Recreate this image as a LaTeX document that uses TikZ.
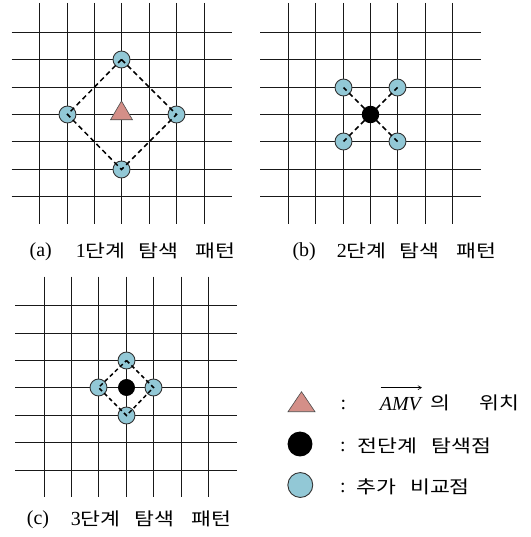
\documentclass[tikz,border=0pt]{standalone}
\usepackage{fontspec}
\setmainfont{Liberation Serif}
\newfontfamily\kr{Noto Sans CJK KR}[FakeStretch=1.22]
\newfontfamily\latn{Liberation Serif}
\usetikzlibrary{shapes.geometric,arrows.meta}
\definecolor{dotblue}{RGB}{146,200,214}
\definecolor{trired}{RGB}{212,143,136}
\definecolor{gridcol}{RGB}{25,25,25}
\tikzset{
  gridline/.style={draw=gridcol, line width=1.6bp},
  bluedot/.style={circle, draw=black!80, fill=dotblue, line width=0.9pt, minimum size=17pt, inner sep=0pt},
  blackdot/.style={circle, fill=black, minimum size=17.5pt, inner sep=0pt},
  dashline/.style={draw=black, line width=1.5pt, dash pattern=on 5pt off 3.5pt},
  lat/.style={font=\fontsize{20}{22}\selectfont, inner sep=0pt},
  han/.style={font=\kr\fontsize{17.8}{20}\selectfont, inner sep=0pt},
}
\newcommand{\dg}[1]{{\latn\fontsize{20}{22}\selectfont #1}}
\begin{document}
\begin{tikzpicture}[x=1bp,y=-1bp]
\useasboundingbox (0,0) rectangle (531,537);
% ---------- panel (a)
\foreach \v in {39.5,67.5,94.5,121.5,149.5,176.5,204.5}
  \draw[gridline] (\v,3) -- (\v,224);
\foreach \h in {32.5,59.5,87.5,114.5,141.5,169.5,196.5}
  \draw[gridline] (11.7,\h) -- (231.7,\h);
\node[bluedot] (aT) at (121.5,59.5) {};
\node[bluedot] (aL) at (67.5,114.5) {};
\node[bluedot] (aR) at (176.5,114.5) {};
\node[bluedot] (aB) at (121.5,169.5) {};
\draw[dashline] (aT.center) -- (aR.center) -- (aB.center) -- (aL.center) -- cycle;
\draw[fill=trired, draw=black!70, line width=0.6pt] (110.5,119.8) -- (121.5,101) -- (132.5,119.8) -- cycle;
% ---------- panel (b)
\foreach \v in {288.5,315.5,343.5,370.5,397.5,425.5,452.5}
  \draw[gridline] (\v,3) -- (\v,224);
\foreach \h in {32.5,59.5,87.5,114.5,141.5,169.5,196.5}
  \draw[gridline] (260,\h) -- (480.7,\h);
\node[bluedot] (bTL) at (343.5,87.5) {};
\node[bluedot] (bTR) at (397.5,87.5) {};
\node[bluedot] (bBL) at (343.5,141.5) {};
\node[bluedot] (bBR) at (397.5,141.5) {};
\node[blackdot] (bC) at (370.5,114.5) {};
\draw[dashline] (bC.center) -- (bTL.center);
\draw[dashline] (bC.center) -- (bTR.center);
\draw[dashline] (bC.center) -- (bBL.center);
\draw[dashline] (bC.center) -- (bBR.center);
% ---------- panel (c)
\foreach \v in {44.5,71.5,98.5,126.5,153.5,181.5,208.5}
  \draw[gridline] (\v,276.7) -- (\v,497.3);
\foreach \h in {305.5,333.5,360.5,387.5,415.5,442.5,470.5}
  \draw[gridline] (15,\h) -- (236.7,\h);
\node[blackdot, minimum size=17pt] (cC) at (126.5,387.5) {};
\node[bluedot] (cT) at (126.5,360.5) {};
\node[bluedot] (cL) at (98.5,387.5) {};
\node[bluedot] (cR) at (153.5,387.5) {};
\node[bluedot] (cB) at (126.5,415.5) {};
\draw[dashline, dash pattern=on 4pt off 3pt] (cT.center) -- (cR.center) -- (cB.center) -- (cL.center) -- cycle;
% ---------- captions
\node[lat] (capa) at (40.7,252) {(a)};
\node[han] (capa1) at (100.8,251) {\dg{1}단계};
\node[han] (capa2) at (158.3,251) {탐색};
\node[han] (capa3) at (215.7,251) {패턴};
\node[lat] (capb) at (304.2,252) {(b)};
\node[han] (capb1) at (361.7,251) {\dg{2}단계};
\node[han] (capb2) at (419.8,251) {탐색};
\node[han] (capb3) at (476.7,251) {패턴};
\node[lat] (capc) at (38,520) {(c)};
\node[han] (capc1) at (95.8,519) {\dg{3}단계};
\node[han] (capc2) at (154.8,519) {탐색};
\node[han] (capc3) at (211.5,519) {패턴};
% ---------- legend
\draw[fill=trired, draw=black!70, line width=0.6pt] (288,411.7) -- (301.5,391.7) -- (315,411.7) -- cycle;
\node[circle, fill=black, minimum size=25pt, inner sep=0pt] (legblack) at (300,444) {};
\node[circle, draw=black!80, fill=dotblue, line width=0.9pt, minimum size=25pt, inner sep=0pt] (legblue) at (300.3,485) {};
\node[lat] (col1) at (343.3,405) {:};
\node[lat] (col2) at (343,447) {:};
\node[lat] (col3) at (343,488) {:};
\node[lat, anchor=base] (amv) at (400.3,410) {\itshape AMV};
\draw[line width=0.6pt, -{Straight Barb[length=3.5pt,width=4pt]}] ([xshift=1pt,yshift=9pt]amv.north west) -- ([xshift=1pt,yshift=9pt]amv.north east);
\node[han] (ui) at (440.5,402.5) {의};
\node[han] (wichi) at (499.8,402.5) {위치};
\node[han] (jeon) at (387.5,446) {전단계};
\node[han] (tam) at (461.7,446) {탐색점};
\node[han] (chuga) at (376.7,486.7) {추가};
\node[han] (bigyo) at (440,486.7) {비교점};
\end{tikzpicture}
\end{document}
